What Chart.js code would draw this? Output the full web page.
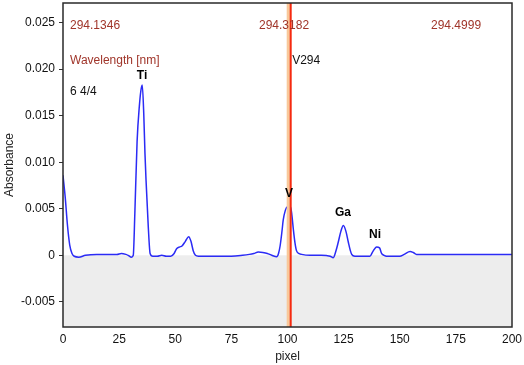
<!DOCTYPE html>
<html>
<head>
<meta charset="utf-8">
<script src="https://cdn.jsdelivr.net/npm/chart.js@4"></script>
<style>
  html, body { margin: 0; padding: 0; background: #fff; }
  #wrap { width: 524px; height: 365px; }
</style>
</head>
<body>
<div id="wrap"><canvas id="c" width="524" height="365"></canvas></div>
<script>
// spectrum around V 294 nm, absorbance vs detector pixel
const pixelX = [0, 1, 2, 3, 4, 5, 7, 10, 15, 20, 24, 26, 28, 29, 30.5, 31.3, 32, 33, 34, 34.7,
  35.3, 36, 36.5, 37, 38, 38.8, 40, 42, 44, 46, 48, 49.5, 50.6, 52, 53, 54.5, 56, 57, 58, 59,
  60.3, 65, 70, 75, 80, 83, 85, 87, 89, 91, 93, 95.2, 96, 96.7, 97.5, 98.1, 99, 99.9, 101.4, 102,
  102.6, 103.3, 104, 105, 106.3, 110, 115, 119, 120.4, 121.5, 122.6, 123.8, 124.9, 126, 127.1, 128, 128.6, 130,
  133, 136.7, 138, 139.7, 141, 141.9, 143, 144.1, 147, 150, 152, 154.6, 156, 157.5, 160, 170, 180, 190, 200];
const absorbance = [0.0086, 0.0062, 0.0032, 0.0011, 0.0002, -0.0001, -0.0002, 0.0000, 0.0001, 0.0001, 0.0001, 0.0002, 0.0001, 0.0000, -0.0002, 0.0000, 0.0045, 0.0122, 0.0160, 0.0177,
  0.0183, 0.0150, 0.0110, 0.0080, 0.0030, 0.0002, -0.0001, -0.0001, 0.0000, -0.0001, -0.0001, 0.0002, 0.0007, 0.0009, 0.0010, 0.0015, 0.0020, 0.0015, 0.0005, 0.0000,
  -0.0001, -0.0001, -0.0001, -0.0001, 0.0000, 0.0001, 0.0002, 0.00035, 0.0003, 0.0002, 0.0000, -0.00015, 0.0002, 0.0010, 0.0025, 0.0038, 0.0048, 0.0052, 0.0052, 0.0042,
  0.0028, 0.0014, 0.0005, 0.0002, 0.0001, 0.0000, 0.0000, -0.0001, -0.00025, 0.0004, 0.0014, 0.0026, 0.0032, 0.0026, 0.0014, 0.0005, 0.0001, -0.0001,
  -0.0001, -0.0001, 0.0004, 0.0009, 0.0008, 0.0002, 0.0000, -0.0001, -0.0001, -0.0001, 0.0001, 0.0004, 0.0003, 0.0001, 0.0001, 0.0001, 0.0001, 0.0001, 0.0001];

const yTicks = [-0.005, 0, 0.005, 0.010, 0.015, 0.020, 0.025];
const xTicks = [0, 25, 50, 75, 100, 125, 150, 175, 200];

const peakNames = ["Ti", "V", "Ga", "Ni"];
const peakLabelX = [35.2, 100.7, 124.7, 139];
const peakLabelY = [0.0193, 0.0066, 0.0046, 0.00225];

const markerPixel = 101.2;   // selected line position
const wavelengths = ["294.1346", "294.3182", "294.4999"];

const DARK_RED = "#a0352a";
const FONT = "'Liberation Sans', Arial, sans-serif";

const overlay = {
  id: "overlay",
  beforeDatasetsDraw(chart) {
    const { ctx, chartArea: a, scales: { y } } = chart;
    const y0 = y.getPixelForValue(0);
    ctx.save();
    ctx.fillStyle = "#ededed";
    ctx.fillRect(a.left, y0, a.right - a.left, a.bottom - y0);
    ctx.restore();
  },
  afterDatasetsDraw(chart) {
    const { ctx, chartArea: a, scales: { x, y } } = chart;
    ctx.save();
    // selected pixel marker
    const mx = x.getPixelForValue(markerPixel);
    ctx.fillStyle = "#f8c89a";
    ctx.fillRect(mx - 3.5, a.top, 4, a.bottom - a.top);
    ctx.fillStyle = "#f52a10";
    ctx.fillRect(mx - 0.5, a.top, 2, a.bottom - a.top);

    // peak labels
    ctx.font = "bold 12px " + FONT;
    ctx.fillStyle = "#000";
    ctx.textAlign = "center";
    ctx.textBaseline = "middle";
    peakNames.forEach((nm, i) => {
      ctx.fillText(nm, x.getPixelForValue(peakLabelX[i]), y.getPixelForValue(peakLabelY[i]));
    });

    // header texts
    ctx.font = "12px " + FONT;
    ctx.textAlign = "left";
    ctx.fillStyle = DARK_RED;
    ctx.fillText(wavelengths[0], a.left + 7, a.top + 23);
    ctx.fillText(wavelengths[1], a.left + 196, a.top + 23);
    ctx.fillText(wavelengths[2], a.left + 368, a.top + 23);
    ctx.fillText("Wavelength [nm]", a.left + 7, a.top + 58);
    ctx.fillStyle = "#111";
    ctx.fillText("6 4/4", a.left + 7, a.top + 89);
    ctx.fillText("V294", mx + 2, a.top + 58);

    // frame
    ctx.strokeStyle = "#2a2a2a";
    ctx.lineWidth = 1.5;
    ctx.strokeRect(a.left, a.top, a.right - a.left, a.bottom - a.top);
    ctx.restore();
  }
};

new Chart(document.getElementById("c"), {
  type: "line",
  data: {
    datasets: [{
      data: pixelX.map((p, i) => ({ x: p, y: absorbance[i] })),
      borderColor: "#2b2bf5",
      borderWidth: 1.5,
      pointRadius: 0,
      cubicInterpolationMode: "monotone",
      fill: false
    }]
  },
  options: {
    responsive: false,
    animation: false,
    layout: { padding: { top: 3, right: 12, left: 0, bottom: 0 } },
    plugins: { legend: { display: false }, tooltip: { enabled: false } },
    scales: {
      x: {
        type: "linear", min: 0, max: 200,
        afterBuildTicks: s => { s.ticks = xTicks.map(v => ({ value: v })); },
        afterFit: s => { s.height = 38; s.paddingLeft = 0; s.paddingRight = 0; },
        grid: { display: false, tickLength: 0 },
        border: { display: false },
        ticks: { padding: 5, color: "#111", font: { size: 12, family: FONT }, maxRotation: 0 },
        title: { display: true, text: "pixel", color: "#222", padding: { top: 0, bottom: 1 },
          font: { size: 12, family: FONT } }
      },
      y: {
        type: "linear", min: -0.0077, max: 0.0271,
        afterBuildTicks: s => { s.ticks = yTicks.map(v => ({ value: v })); },
        afterFit: s => { s.width = 63; s.paddingTop = 0; s.paddingBottom = 0; },
        grid: { display: true, drawOnChartArea: false, tickLength: 4, color: "#333" },
        border: { display: false },
        ticks: {
          padding: 4, color: "#111", font: { size: 12, family: FONT },
          callback: v => v === 0 ? "0" : v.toFixed(3)
        },
        title: { display: true, text: "Absorbance", color: "#222", padding: { top: 2, bottom: 0 },
          font: { size: 12, family: FONT } }
      }
    }
  },
  plugins: [overlay]
});
</script>
</body>
</html>
